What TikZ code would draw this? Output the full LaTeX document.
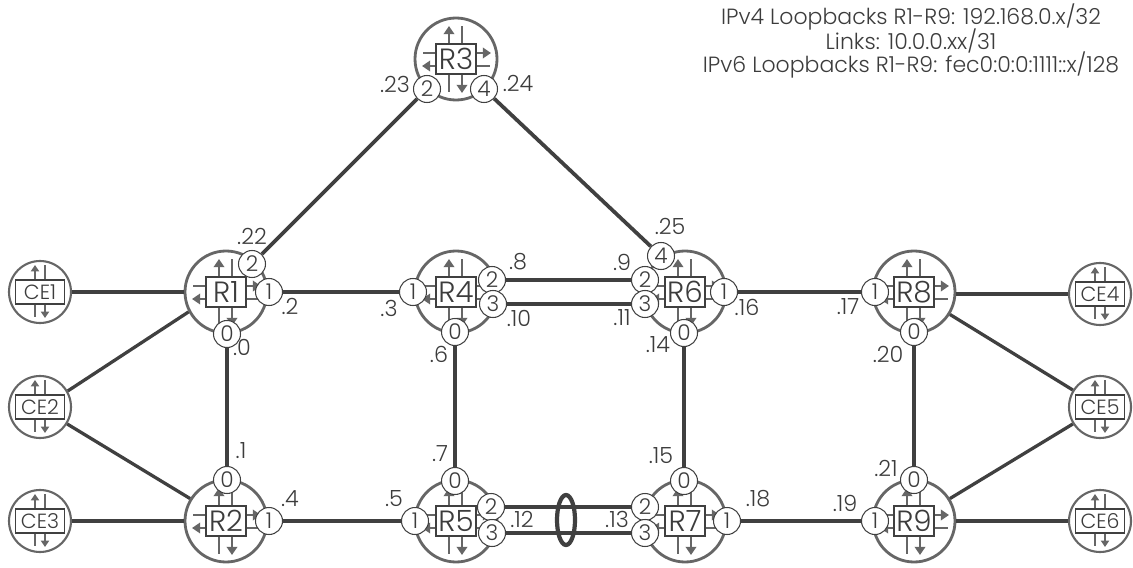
\documentclass[tikz,border=0pt]{standalone}
\usepackage{fontspec}
\setmainfont{Poppins}[UprightFont=* Light]
\usetikzlibrary{arrows.meta,shapes.geometric}
\definecolor{linkgray}{HTML}{404040}
\definecolor{icongray}{HTML}{666666}
\definecolor{textgray}{HTML}{3C3C3C}
\tikzset{
  router/.style={circle,draw=icongray,line width=2.4pt,minimum size=82*0.03cm,inner sep=0pt},
  cerouter/.style={circle,draw=icongray,line width=1.8pt,minimum size=62*0.03cm,inner sep=0pt},
  routerbox/.style={draw=linkgray,fill=white,line width=1pt,minimum width=40*0.03cm,minimum height=30*0.03cm,inner sep=0pt,font=\fontsize{25}{25}\selectfont,text=textgray},
  cebox/.style={draw=linkgray,fill=white,line width=1pt,minimum width=49*0.03cm,minimum height=24*0.03cm,inner sep=0pt,font=\fontsize{17.5}{17.5}\selectfont,text=textgray},
  port/.style={circle,draw=linkgray,fill=white,line width=0.9pt,minimum size=27*0.03cm,inner sep=0pt,font=\fontsize{18.5}{18.5}\selectfont,text=textgray},
  addr/.style={font=\fontsize{19}{19}\selectfont,text=textgray,inner sep=0pt},
  title/.style={font=\fontsize{18.8}{18.8}\selectfont,text=textgray,inner sep=0pt},
  link/.style={draw=linkgray,line width=3.2pt},
  celink/.style={draw=linkgray,line width=2.8pt},
  iconline/.style={draw=icongray,line width=2.3pt},
  iconarrow/.style={iconline,-{Triangle[length=7pt,width=9pt]}},
  ceiconline/.style={draw=icongray,line width=1.8pt},
  ceiconarrow/.style={ceiconline,-{Triangle[length=5.5pt,width=7pt]}},
  routericon/.pic={
    \draw[iconarrow] (-7,0) -- (-7,-33);
    \draw[iconline] (6,0) -- (6,-33);
    \draw[iconline] (-7,0) -- (-7,33);
    \draw[iconarrow] (6,0) -- (6,34);
    \draw[iconline] (0,-6) -- (-33,-6);
    \draw[iconarrow] (0,-6) -- (35,-6);
    \draw[iconarrow] (0,7) -- (-34,7);
    \draw[iconline] (0,7) -- (34,7);
  },
  ceicon/.pic={
    \draw[ceiconarrow] (-5,0) -- (-5,-27);
    \draw[ceiconline] (5,0) -- (5,-27);
    \draw[ceiconline] (-5,0) -- (-5,25);
    \draw[ceiconarrow] (5,0) -- (5,26);
  },
}

\begin{document}
\begin{tikzpicture}[x=0.03cm,y=-0.03cm]
\useasboundingbox (0,0) rectangle (1133,568);
% routers
\node[router] (r1) at (226,292) {};
\node[router] (r2) at (226,521) {};
\node[router] (r3) at (456,59) {};
\node[router] (r4) at (456,292) {};
\node[router] (r5) at (456,521) {};
\node[router] (r6) at (685,292) {};
\node[router] (r7) at (685,521) {};
\node[router] (r8) at (914,292) {};
\node[router] (r9) at (914,521) {};
\pic at (r1) {routericon};
\pic at (r2) {routericon};
\pic at (r3) {routericon};
\pic at (r4) {routericon};
\pic at (r5) {routericon};
\pic at (r6) {routericon};
\pic at (r7) {routericon};
\pic at (r8) {routericon};
\pic at (r9) {routericon};
\node[routerbox] (r1box) at (r1) {R1};
\node[routerbox] (r2box) at (r2) {R2};
\node[routerbox] (r3box) at (r3) {R3};
\node[routerbox] (r4box) at (r4) {R4};
\node[routerbox] (r5box) at (r5) {R5};
\node[routerbox] (r6box) at (r6) {R6};
\node[routerbox] (r7box) at (r7) {R7};
\node[routerbox] (r8box) at (r8) {R8};
\node[routerbox] (r9box) at (r9) {R9};
% customer edges
\node[cerouter] (ce1) at (40,292) {};
\node[cerouter] (ce2) at (40,407) {};
\node[cerouter] (ce3) at (40,521) {};
\node[cerouter] (ce4) at (1100,294) {};
\node[cerouter] (ce5) at (1100,407) {};
\node[cerouter] (ce6) at (1100,521) {};
\pic at (ce1) {ceicon};
\pic at (ce2) {ceicon};
\pic at (ce3) {ceicon};
\pic at (ce4) {ceicon};
\pic at (ce5) {ceicon};
\pic at (ce6) {ceicon};
\node[cebox] (ce1box) at (ce1) {CE1};
\node[cebox] (ce2box) at (ce2) {CE2};
\node[cebox] (ce3box) at (ce3) {CE3};
\node[cebox] (ce4box) at (ce4) {CE4};
\node[cebox] (ce5box) at (ce5) {CE5};
\node[cebox] (ce6box) at (ce6) {CE6};
% ports
\node[port] (r1zero) at (227,334) {0};
\node[port] (r1one) at (269,292) {1};
\node[port] (r1two) at (252,264) {2};
\node[port] (r2zero) at (227,480) {0};
\node[port] (r2one) at (269,521) {1};
\node[port] (r3two) at (427,89) {2};
\node[port] (r3four) at (484,89) {4};
\node[port] (r4zero) at (455,332) {0};
\node[port] (r4one) at (413,292) {1};
\node[port] (r4two) at (492,280) {2};
\node[port] (r4three) at (493,304) {3};
\node[port] (r5zero) at (455,481) {0};
\node[port] (r5one) at (415,521) {1};
\node[port] (r5two) at (491,507) {2};
\node[port] (r5three) at (492,533) {3};
\node[port] (r6zero) at (684,333) {0};
\node[port] (r6one) at (724,292) {1};
\node[port] (r6two) at (645,280) {2};
\node[port] (r6three) at (645,304) {3};
\node[port] (r6four) at (661,256) {4};
\node[port] (r7zero) at (684,481) {0};
\node[port] (r7one) at (727,521) {1};
\node[port] (r7two) at (645,507) {2};
\node[port] (r7three) at (645,533) {3};
\node[port] (r8zero) at (914,332) {0};
\node[port] (r8one) at (875,292) {1};
\node[port] (r9zero) at (914,480) {0};
\node[port] (r9one) at (875,521) {1};
% links
\draw[link] (r1two) -- (r3two);
\draw[link] (r3four) -- (r6four);
\draw[link] (r1one) -- (r4one);
\draw[link] (r1zero) -- (r2zero);
\draw[link] (r2one) -- (r5one);
\draw[link] (r4zero) -- (r5zero);
\draw[link] (r4two) -- (r6two);
\draw[link] (r4three) -- (r6three);
\draw[link] (r5two) -- (r7two);
\draw[link] (r5three) -- (r7three);
\draw[link] (r6zero) -- (r7zero);
\draw[link] (r6one) -- (r8one);
\draw[link] (r7one) -- (r9one);
\draw[link] (r8zero) -- (r9zero);
\draw[celink] (ce1) -- (r1);
\draw[celink] (ce2.30) -- (r1.208);
\draw[celink] (ce2.-32) -- (r2.148);
\draw[celink] (ce3) -- (r2);
\draw[celink] (ce4) -- (r8.0|-ce4);
\draw[celink] (ce5.148) -- (r8.-32);
\draw[celink] (ce5.-148) -- (r9.32);
\draw[celink] (ce6) -- (r9);
% bundle
\node[draw=linkgray,line width=3.6pt,ellipse,minimum width=18*0.03cm,minimum height=50*0.03cm,inner sep=0pt] (bundle) at (566,520) {};
% addresses
\node[addr] (a22) at (252,236) {.22};
\node[addr] (a2) at (290,306) {.2};
\node[addr] (a0) at (242,347) {.0};
\node[addr] (a1) at (241,451) {.1};
\node[addr] (a4) at (290,499) {.4};
\node[addr] (a23) at (395,84) {.23};
\node[addr] (a24) at (518,83) {.24};
\node[addr] (a25) at (670,226) {.25};
\node[addr] (a3) at (389,308) {.3};
\node[addr] (a8) at (518,262) {.8};
\node[addr] (a9) at (622,262) {.9};
\node[addr] (a10) at (519,318) {.10};
\node[addr] (a11) at (622,318) {.11};
\node[addr] (a6) at (439,354) {.6};
\node[addr] (a14) at (658,345) {.14};
\node[addr] (a16) at (747,307) {.16};
\node[addr] (a17) at (848,307) {.17};
\node[addr] (a20) at (888,354) {.20};
\node[addr] (a7) at (440,454) {.7};
\node[addr] (a15) at (661,456) {.15};
\node[addr] (a21) at (886,468) {.21};
\node[addr] (a5) at (394,499) {.5};
\node[addr] (a12) at (522,519) {.12};
\node[addr] (a13) at (617,519) {.13};
\node[addr] (a18) at (758,499) {.18};
\node[addr] (a19) at (845,503) {.19};
% header
\node[title] (loopfour) at (911,17) {IPv4 Loopbacks R1-R9: 192.168.0.x/32};
\node[title] (links) at (911,41) {Links: 10.0.0.xx/31};
\node[title] (loopsix) at (911,65) {IPv6 Loopbacks R1-R9: fec0:0:0:1111::x/128};
\end{tikzpicture}
\end{document}
